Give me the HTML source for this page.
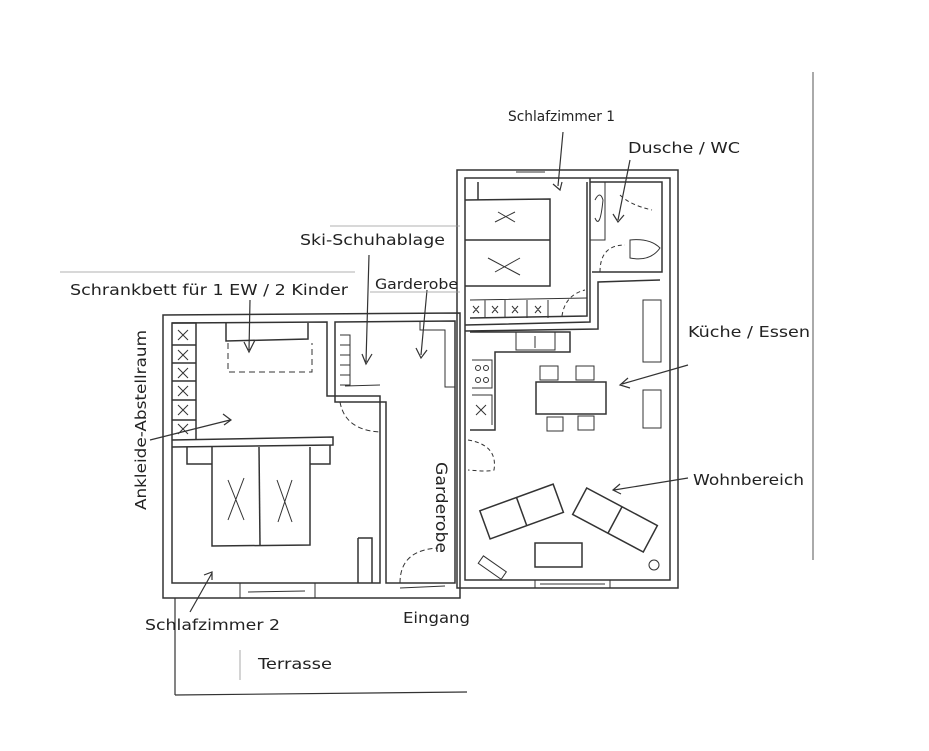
<!DOCTYPE html>
<html><head><meta charset="utf-8"><style>
html,body{margin:0;padding:0;background:#fff;}
svg{display:block;}
text{font-family:"DejaVu Sans","Liberation Sans",sans-serif;font-size:15px;fill:#222;}
</style></head><body>
<svg width="929" height="751" viewBox="0 0 929 751" xmlns="http://www.w3.org/2000/svg">
<g stroke="#333" stroke-width="1.5" fill="none">
<line x1="813" y1="72" x2="813" y2="560" stroke="#555" stroke-width="1"/>
<line x1="175" y1="598" x2="175" y2="695" stroke-width="1.2"/>
<line x1="175" y1="695" x2="467" y2="692" stroke-width="1.2"/>
<line x1="240" y1="650" x2="240" y2="680" stroke="#aaa" stroke-width="1"/>
<path d="M163 315 L460 313 L460 598 L163 598 Z"/>
<path d="M172 323 L327 322 L327 396 L380 396 L380 583 L172 583 Z"/>
<path d="M335 322 L455 321 L455 583 L386 583 L386 402 L335 402 Z"/>
<path d="M172 440 L333 437 L333 445 L172 447"/>
<path d="M172 323 L196 323 L196 440"/>
<line x1="172" y1="345" x2="196" y2="345"/><line x1="172" y1="363" x2="196" y2="363"/>
<line x1="172" y1="381" x2="196" y2="381"/><line x1="172" y1="400" x2="196" y2="400"/>
<line x1="172" y1="420" x2="196" y2="420"/>
<g stroke-width="1"><path d="M178 330l10 10M188 330l-10 10M178 350l10 10M188 350l-10 10M178 368l10 10M188 368l-10 10M178 386l10 10M188 386l-10 10M178 405l10 10M188 405l-10 10M178 424l10 10M188 424l-10 10"/></g>
<path d="M226 323 L226 341 L308 339 L308 323"/>
<path d="M228 343 L228 372 L312 372 L312 343" stroke-dasharray="6,4" stroke-width="1"/>
<path d="M212 447 L212 546 L310 545 L310 447"/>
<line x1="259" y1="447" x2="260" y2="545"/>
<path d="M187 447 L187 464 L212 464 M310 464 L330 464 L330 445" />
<path d="M228 480 L244 520 M244 478 L228 520 M277 480 L292 522 M292 480 L278 522" stroke-width="1"/>
<path d="M358 538 L372 538 L372 583 M358 538 L358 583"/>
<path d="M240 583 L240 598 M315 583 L315 598 M248 592 L305 591" stroke-width="1"/>
<path d="M340 335 L350 335 L350 385 L340 385 M340 345 L350 345 M340 355 L350 355 M340 365 L350 365 M340 375 L350 375" stroke-width="1"/>
<path d="M345 386 L380 385" stroke-width="1"/>
<path d="M420 321 L420 330 L445 330 L445 387 L455 387" stroke-width="1"/>
<path d="M340 402 Q345 430 380 432" stroke-dasharray="5,3" stroke-width="1"/>
<path d="M400 583 Q400 550 438 548" stroke-dasharray="5,3" stroke-width="1"/>
<path d="M400 588 L445 586" stroke-width="1"/>
<path d="M457 170 L678 170 L678 588 L457 588 Z"/>
<path d="M465 178 L670 178 L670 580 L465 580 Z"/>
<path d="M465 325 L590 322 L590 178"/>
<path d="M465 331 L598 329 L598 282 L660 280"/>
<path d="M587 182 L587 316 L470 318"/>
<path d="M478 182 L478 200 M465 200 L550 199 L550 286 L465 286 M465 240 L550 240" />
<path d="M498 212 L515 222 M495 222 L515 212 M488 258 L520 275 M495 272 L520 258" stroke-width="1"/>
<path d="M470 300 L587 298 M485 300 L485 318 M505 300 L505 318 M527 300 L527 318 M548 300 L548 318" stroke-width="1"/>
<path d="M473 306l6 7M479 306l-6 7M492 306l6 7M498 306l-6 7M512 306l6 7M518 306l-6 7M535 306l6 7M541 306l-6 7" stroke-width="1"/>
<path d="M562 316 Q565 295 585 290" stroke-dasharray="4,3" stroke-width="1"/>
<path d="M516 172 L545 172" stroke-width="1"/>
<path d="M590 182 L662 182 L662 272 L592 272" />
<path d="M590 182 L605 182 L605 240 L590 240 M595 200 Q600 190 603 200 Q600 230 595 218" stroke-width="1"/>
<path d="M630 240 Q650 238 660 248 Q650 262 630 258 Z" stroke-width="1"/>
<path d="M620 195 Q630 205 652 210" stroke-dasharray="4,3" stroke-width="1"/>
<path d="M600 272 Q600 245 625 245" stroke-dasharray="4,3" stroke-width="1"/>
<path d="M470 332 L570 332 L570 352 L495 352 L495 430 L470 430" />
<path d="M516 332 L516 350 L555 350 L555 332 M535 336 L535 348" stroke-width="1"/>
<path d="M472 360 L492 360 L492 388 L472 388 M472 395 L492 395 L492 425 M476 405 L486 415 M486 405 L476 415" stroke-width="1"/>
<circle cx="478" cy="368" r="2.5" stroke-width="1"/><circle cx="486" cy="368" r="2.5" stroke-width="1"/><circle cx="478" cy="380" r="2.5" stroke-width="1"/><circle cx="486" cy="380" r="2.5" stroke-width="1"/>
<rect x="536" y="382" width="70" height="32"/>
<rect x="540" y="366" width="18" height="14" stroke-width="1"/><rect x="576" y="366" width="18" height="14" stroke-width="1"/>
<rect x="547" y="417" width="16" height="14" stroke-width="1"/><rect x="578" y="416" width="16" height="14" stroke-width="1"/>
<rect x="643" y="300" width="18" height="62" stroke-width="1"/>
<rect x="643" y="390" width="18" height="38" stroke-width="1"/>
<path d="M468 440 Q498 445 494 470 Q490 472 468 470" stroke-dasharray="4,3" stroke-width="1"/>
<g transform="rotate(-20 520 510)"><rect x="482" y="497" width="78" height="30"/><line x1="521" y1="497" x2="521" y2="527"/></g>
<g transform="rotate(28 615 520)"><rect x="575" y="505" width="80" height="30"/><line x1="615" y1="505" x2="615" y2="535"/></g>
<rect x="535" y="543" width="47" height="24"/>
<g transform="rotate(35 492 568)"><rect x="478" y="563" width="28" height="9" stroke-width="1"/></g>
<circle cx="654" cy="565" r="5" stroke-width="1"/>
<path d="M535 580 L535 588 M610 580 L610 588 M540 584 L605 584" stroke-width="1"/>
<g stroke-width="1.2">
<path d="M563 132 L558 186 M553 184 L560 190 L562 182"/>
<path d="M630 160 L618 220 M613 214 L618 222 L624 215"/>
<path d="M688 365 L622 384 M628 378 L620 385 L630 388"/>
<path d="M688 478 L614 490 M620 484 L613 490 L621 494"/>
<path d="M250 300 L249 350 M244 342 L249 352 L255 340"/>
<path d="M369 255 L366 362 M362 354 L366 364 L372 354"/>
<path d="M427 290 L421 355 M416 348 L421 358 L427 350"/>
<path d="M150 440 L230 420 M223 414 L231 420 L224 425"/>
<path d="M190 612 L212 573 M204 575 L212 572 L212 580"/>
</g>
<line x1="60" y1="272" x2="355" y2="272" stroke="#999" stroke-width="0.8"/>
<line x1="330" y1="226" x2="460" y2="226" stroke="#999" stroke-width="0.8"/>
<line x1="370" y1="292" x2="460" y2="292" stroke="#999" stroke-width="0.8"/>
</g>
<text x="508" y="121" style="font-size:14px" textLength="107" lengthAdjust="spacingAndGlyphs">Schlafzimmer 1</text>
<text x="628" y="153" textLength="112" lengthAdjust="spacingAndGlyphs">Dusche / WC</text>
<text x="300" y="245" textLength="145" lengthAdjust="spacingAndGlyphs">Ski-Schuhablage</text>
<text x="375" y="289" style="font-size:14px" textLength="83" lengthAdjust="spacingAndGlyphs">Garderobe</text>
<text x="70" y="295" textLength="278" lengthAdjust="spacingAndGlyphs">Schrankbett für 1 EW / 2 Kinder</text>
<text x="688" y="337" textLength="122" lengthAdjust="spacingAndGlyphs">Küche / Essen</text>
<text x="693" y="485" textLength="111" lengthAdjust="spacingAndGlyphs">Wohnbereich</text>
<text x="145" y="630" textLength="135" lengthAdjust="spacingAndGlyphs">Schlafzimmer 2</text>
<text x="403" y="623" textLength="67" lengthAdjust="spacingAndGlyphs">Eingang</text>
<text x="258" y="669" textLength="74" lengthAdjust="spacingAndGlyphs">Terrasse</text>
<text transform="translate(146,510) rotate(-90)" textLength="180" lengthAdjust="spacingAndGlyphs">Ankleide-Abstellraum</text>
<text transform="translate(436,462) rotate(90)" style="font-size:16px" textLength="91" lengthAdjust="spacingAndGlyphs">Garderobe</text>
</svg>
</body></html>
